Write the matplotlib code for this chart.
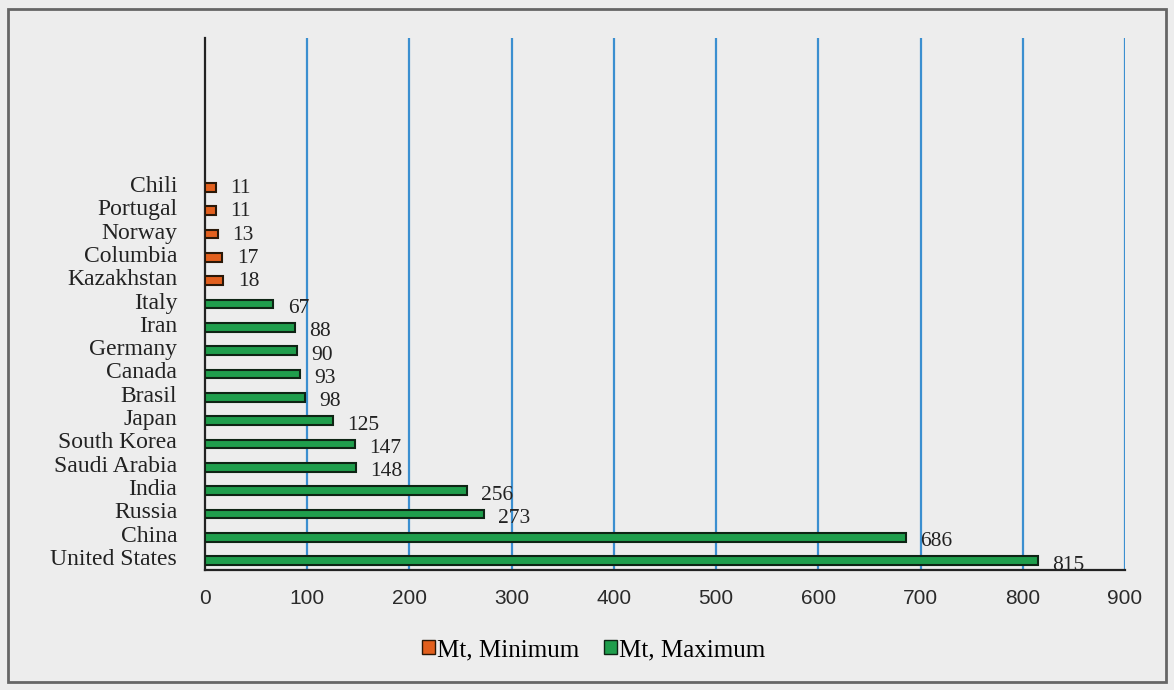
import numpy as np
import matplotlib.pyplot as plt
from matplotlib.patches import Rectangle, Patch

countries = ['United States', 'China', 'Russia', 'India', 'Saudi Arabia', 'South Korea',
             'Japan', 'Brasil', 'Canada', 'Germany', 'Iran', 'Italy',
             'Kazakhstan', 'Columbia', 'Norway', 'Portugal', 'Chili']
mt_min = [0, 0, 0, 0, 0, 0, 0, 0, 0, 0, 0, 0, 18, 17, 13, 11, 11]
mt_max = [815, 686, 273, 256, 148, 147, 125, 98, 93, 90, 88, 67, 0, 0, 0, 0, 0]
xticks = [0, 100, 200, 300, 400, 500, 600, 700, 800, 900]

bg = '#ededed'
orange = '#e2601e'
green = '#1f9e4c'
blue = '#3b8fd0'

fig = plt.figure(figsize=(11.74, 6.90), dpi=100, facecolor=bg)
fig.patches.append(Rectangle((0.007, 0.012), 0.986, 0.975, transform=fig.transFigure,
                             fill=False, edgecolor='#666666', linewidth=2))

ax = fig.add_axes([205 / 1174, 1 - 570 / 690, 920 / 1174, 532 / 690])
ax.set_facecolor(bg)

y = np.arange(len(countries))
h = 0.38
for i in range(len(countries)):
    if mt_min[i] > 0:
        ax.barh(y[i], mt_min[i], height=h, color=orange, edgecolor='#2a1808', linewidth=1.5, zorder=3)
        ax.text(mt_min[i] + 14, y[i] - 0.05, str(mt_min[i]), va='center', ha='left',
                family='Liberation Serif', fontsize=15.5, color='#222222')
    if mt_max[i] > 0:
        ax.barh(y[i], mt_max[i], height=h, color=green, edgecolor='#0e2414', linewidth=1.5, zorder=3)
        ax.text(mt_max[i] + 14, y[i] - 0.2, str(mt_max[i]), va='center', ha='left',
                family='Liberation Serif', fontsize=15.5, color='#222222')

ax.set_xlim(0, 900)
ax.set_ylim(-0.4, 22.4)
ax.set_xticks(xticks)
ax.set_xticklabels([str(v) for v in xticks], family='Liberation Sans', fontsize=15, color='#2a2a2a')
ax.tick_params(axis='x', length=0, pad=14)
ax.set_yticks(y + 0.15)
ax.set_yticklabels(countries, family='Liberation Serif', fontsize=17, color='#222222')
ax.tick_params(axis='y', length=0, pad=20)

for v in xticks[1:]:
    ax.axvline(v, color=blue, linewidth=1.6, zorder=1)

for s in ['top', 'right']:
    ax.spines[s].set_visible(False)
ax.spines['left'].set_color('#222222')
ax.spines['left'].set_linewidth(1.6)
ax.spines['bottom'].set_color('#222222')
ax.spines['bottom'].set_linewidth(1.6)

handles = [Patch(facecolor=orange, edgecolor='#2a1808', label='Mt, Minimum'),
           Patch(facecolor=green, edgecolor='#0e2414', label='Mt, Maximum')]
fig.legend(handles=handles, loc='center', bbox_to_anchor=(594 / 1174, 1 - 650 / 690), ncol=2,
           frameon=False, prop={'family': 'Liberation Serif', 'size': 18},
           handlelength=0.5, handleheight=0.5, handletextpad=0.1, columnspacing=1.0)

fig.savefig('out.png', dpi=100, facecolor=bg)
